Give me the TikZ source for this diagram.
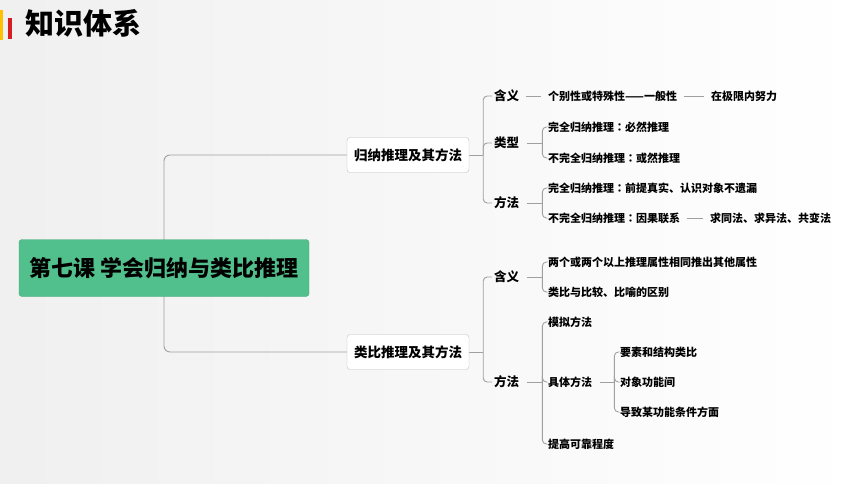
\documentclass[tikz,border=0pt]{standalone}
\usepackage{fontspec}
\setmainfont{Noto Sans CJK SC}
\newfontfamily\tcfont{Noto Sans CJK TC}
\newcommand{\mycolon}{{\tcfont ：}}
\usetikzlibrary{calc}
\definecolor{rootgreen}{RGB}{82,192,140}
\definecolor{rootedge}{RGB}{70,170,122}
\definecolor{linegray}{RGB}{160,160,160}
\definecolor{boxedge}{RGB}{190,190,190}
\definecolor{baryellow}{RGB}{255,192,0}
\definecolor{barred}{RGB}{215,30,30}
\pgfdeclarelayer{bglayer}
\pgfdeclarelayer{lines}
\pgfsetlayers{bglayer,lines,main}
\tikzset{
  rootbox/.style={draw=rootedge, fill=rootgreen, rounded corners=3pt, minimum width=290pt, minimum height=57pt, inner sep=0pt, font=\fontsize{22}{24}\selectfont\bfseries},
  branchbox/.style={draw=boxedge, fill=white, rounded corners=3pt, minimum width=122pt, minimum height=35pt, inner sep=0pt, font=\fontsize{13.5}{15}\selectfont\bfseries},
  lvtwo/.style={anchor=west, inner sep=2pt, font=\fontsize{12.5}{14}\selectfont\bfseries},
  leaf/.style={anchor=west, inner sep=2pt, font=\fontsize{11}{13}\selectfont\bfseries},
  conn/.style={draw=linegray, line width=0.9pt, rounded corners=4pt},
  link/.style={draw=linegray, line width=0.9pt, shorten <=5pt, shorten >=5pt}
}
\begin{document}
\begin{tikzpicture}[x=1pt,y=-1pt]
\begin{pgfonlayer}{bglayer}
\shade[left color=gray!12, right color=white] (0,0) rectangle (860,484);
\fill[baryellow] (0,10) rectangle (3,40);
\fill[barred] (7.5,18) rectangle (11.5,39);
\end{pgfonlayer}
\useasboundingbox (0,0) rectangle (860,484);

\node[anchor=west, inner sep=0pt, font=\fontsize{29}{31}\selectfont\bfseries] (title) at (25,23) {知识体系};

\node[rootbox] (root) at (164,268) {第七课 学会归纳与类比推理};
\node[branchbox] (b1) at (408,155) {归纳推理及其方法};
\node[branchbox] (b2) at (408,352) {类比推理及其方法};

\node[lvtwo] (m1) at (492,96) {含义};
\node[lvtwo] (t1) at (492,143) {类型};
\node[lvtwo] (f1) at (492,203) {方法};
\node[lvtwo] (m2) at (492,277) {含义};
\node[lvtwo] (f2) at (492,382) {方法};

\node[leaf] (a1) at (546,96) {个别性或特殊性——一般性};
\node[leaf] (a2) at (709,96) {在极限内努力};
\node[leaf] (t1a) at (546,127) {完全归纳推理\mycolon 必然推理};
\node[leaf] (t1b) at (546,158) {不完全归纳推理\mycolon 或然推理};
\node[leaf] (f1a) at (546,188) {完全归纳推理\mycolon 前提真实、认识对象不遗漏};
\node[leaf] (f1b) at (546,218) {不完全归纳推理\mycolon 因果联系};
\node[leaf] (f1c) at (708,218) {求同法、求异法、共变法};
\node[leaf] (m2a) at (546,262) {两个或两个以上推理属性相同推出其他属性};
\node[leaf] (m2b) at (546,292) {类比与比较、比喻的区别};
\node[leaf] (f2a) at (546,322) {模拟方法};
\node[leaf] (f2b) at (546,382) {具体方法};
\node[leaf] (f2c) at (546,444) {提高可靠程度};
\node[leaf] (g1) at (618,352) {要素和结构类比};
\node[leaf] (g2) at (618,382) {对象功能间};
\node[leaf] (g3) at (618,412) {导致某功能条件方面};

\begin{pgfonlayer}{lines}
% root
\draw[conn, rounded corners=6pt] (root.center) |- (b1.west);
\draw[conn, rounded corners=6pt] (root.center) |- (b2.west);
% branch 1
\coordinate (v1) at ($(b1.east)+(14,0)$);
\draw[conn] (b1.east) -- (v1);
\draw[conn] (v1) |- (m1.west);
\draw[conn] (v1) |- (t1.west);
\draw[conn] (v1) |- (f1.west);
\draw[link] (m1.east) -- (a1.west);
\draw[link] (a1.east) -- (a2.west);
\coordinate (s1) at ($(t1.east)+(6,0)$);
\coordinate (v2) at ($(t1.east)+(21,0)$);
\draw[conn] (s1) -- (v2);
\draw[conn] (v2) |- (t1a.west);
\draw[conn] (v2) |- (t1b.west);
\coordinate (s2) at ($(f1.east)+(6,0)$);
\coordinate (v3) at ($(f1.east)+(21,0)$);
\draw[conn] (s2) -- (v3);
\draw[conn] (v3) |- (f1a.west);
\draw[conn] (v3) |- (f1b.west);
\draw[link] (f1b.east) -- (f1c.west);
% branch 2
\coordinate (v4) at ($(b2.east)+(14,0)$);
\draw[conn] (b2.east) -- (v4);
\draw[conn] (v4) |- (m2.west);
\draw[conn] (v4) |- (f2.west);
\coordinate (s3) at ($(m2.east)+(6,0)$);
\coordinate (v5) at ($(m2.east)+(21,0)$);
\draw[conn] (s3) -- (v5);
\draw[conn] (v5) |- (m2a.west);
\draw[conn] (v5) |- (m2b.west);
\coordinate (s4) at ($(f2.east)+(6,0)$);
\coordinate (v6) at ($(f2.east)+(21,0)$);
\draw[conn] (s4) -- (v6);
\draw[conn] (v6) |- (f2a.west);
\draw[conn] (v6) |- (f2b.west);
\draw[conn] (v6) |- (f2c.west);
\coordinate (s5) at ($(f2b.east)+(6,0)$);
\coordinate (v7) at ($(f2b.east)+(20,0)$);
\draw[conn] (s5) -- (v7);
\draw[conn] (v7) |- (g1.west);
\draw[conn] (v7) |- (g2.west);
\draw[conn] (v7) |- (g3.west);
\end{pgfonlayer}
\end{tikzpicture}
\end{document}
